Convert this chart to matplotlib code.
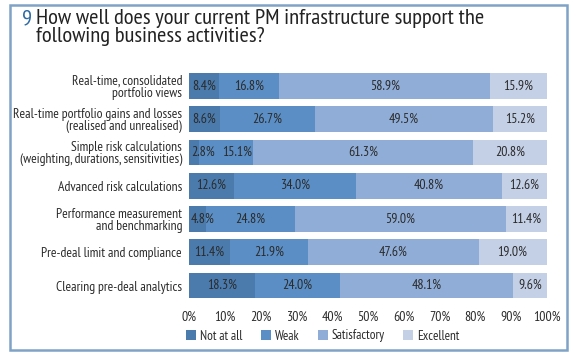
import matplotlib
matplotlib.use("Agg")
import matplotlib.pyplot as plt
from matplotlib import font_manager
from matplotlib.patches import Rectangle, Patch

# pick a condensed sans close to Myriad Condensed
installed = {f.name for f in font_manager.fontManager.ttflist}
wanted = ["PT Sans Narrow", "Fira Sans Condensed", "Roboto Condensed", "Archivo Narrow",
          "Liberation Sans Narrow", "Encode Sans Condensed", "Asap Condensed", "Open Sans"]
font = next((f for f in wanted if f in installed), "DejaVu Sans")
plt.rcParams['font.family'] = [font, 'DejaVu Sans']

categories = [
    "Real-time, consolidated\nportfolio views",
    "Real-time portfolio gains and losses\n(realised and unrealised)",
    "Simple risk calculations\n(weighting, durations, sensitivities)",
    "Advanced risk calculations",
    "Performance measurement\nand benchmarking",
    "Pre-deal limit and compliance",
    "Clearing pre-deal analytics",
]
series = ["Not at all", "Weak", "Satisfactory", "Excellent"]
not_at_all = [8.4, 8.6, 2.8, 12.6, 4.8, 11.4, 18.3]
weak = [16.8, 26.7, 15.1, 34.0, 24.8, 21.9, 24.0]
satisfactory = [58.9, 49.5, 61.3, 40.8, 59.0, 47.6, 48.1]
excellent = [15.9, 15.2, 20.8, 12.6, 11.4, 19.0, 9.6]
xticks = [0, 10, 20, 30, 40, 50, 60, 70, 80, 90, 100]

colors = ["#4a7bac", "#5a8ec4", "#8fadd6", "#c4d0e6"]
text_col = "#2b2b2b"

fig = plt.figure(figsize=(5.8, 3.58), dpi=100)
ax = fig.add_axes([189 / 580, 1 - 303.8 / 358, (547 - 189) / 580, (303.8 - 67.7) / 358])

# frame round the whole figure
fig.patches.append(Rectangle((10 / 580, 1 - 350 / 358), 557 / 580, 345 / 358,
                             transform=fig.transFigure, fill=False,
                             edgecolor="#7fa2c6", linewidth=1.8))

ypos = list(range(len(categories)))
left = [0.0] * len(categories)
prev_x = [-10.0] * len(categories)
for vals, col in zip([not_at_all, weak, satisfactory, excellent], colors):
    ax.barh(ypos, vals, left=left, height=0.78, color=col, edgecolor="none")
    for i, v in enumerate(vals):
        # keep small-segment labels inside the bar and apart from each other
        x = max(left[i] + v / 2, 3.9, prev_x[i] + 9.5)
        ax.text(x, i, f"{v:.1f}%", ha="center", va="center", fontsize=10, color=text_col)
        prev_x[i] = x
    left = [l + v for l, v in zip(left, vals)]

ax.set_xlim(0, 100)
ax.set_ylim(6.55, -0.55)
ax.set_yticks(ypos)
ax.set_yticklabels(categories, fontsize=9.8, color=text_col, linespacing=0.95)
ax.set_xticks(xticks)
ax.set_xticklabels([f"{t}%" for t in xticks], fontsize=10, color=text_col)
ax.tick_params(length=0, pad=5)
for s in ax.spines.values():
    s.set_visible(False)

handles = [Patch(facecolor=c, edgecolor="none") for c in colors]
fig.legend(handles, series, loc="center", bbox_to_anchor=(323 / 580, 1 - 336 / 358),
           ncol=4, frameon=False, fontsize=9.5, handlelength=0.75, handleheight=0.75,
           handletextpad=0.3, columnspacing=1.4, labelcolor=text_col)

fig.text(22 / 580, 1 - 9 / 358, "9", fontsize=16.2, color="#2e6aa3", va="top")
fig.text(36 / 580, 1 - 9 / 358,
         "How well does your current PM infrastructure support the\nfollowing business activities?",
         fontsize=16.2, color="#222222", va="top", linespacing=0.95)

fig.savefig("out.png", dpi=100)
